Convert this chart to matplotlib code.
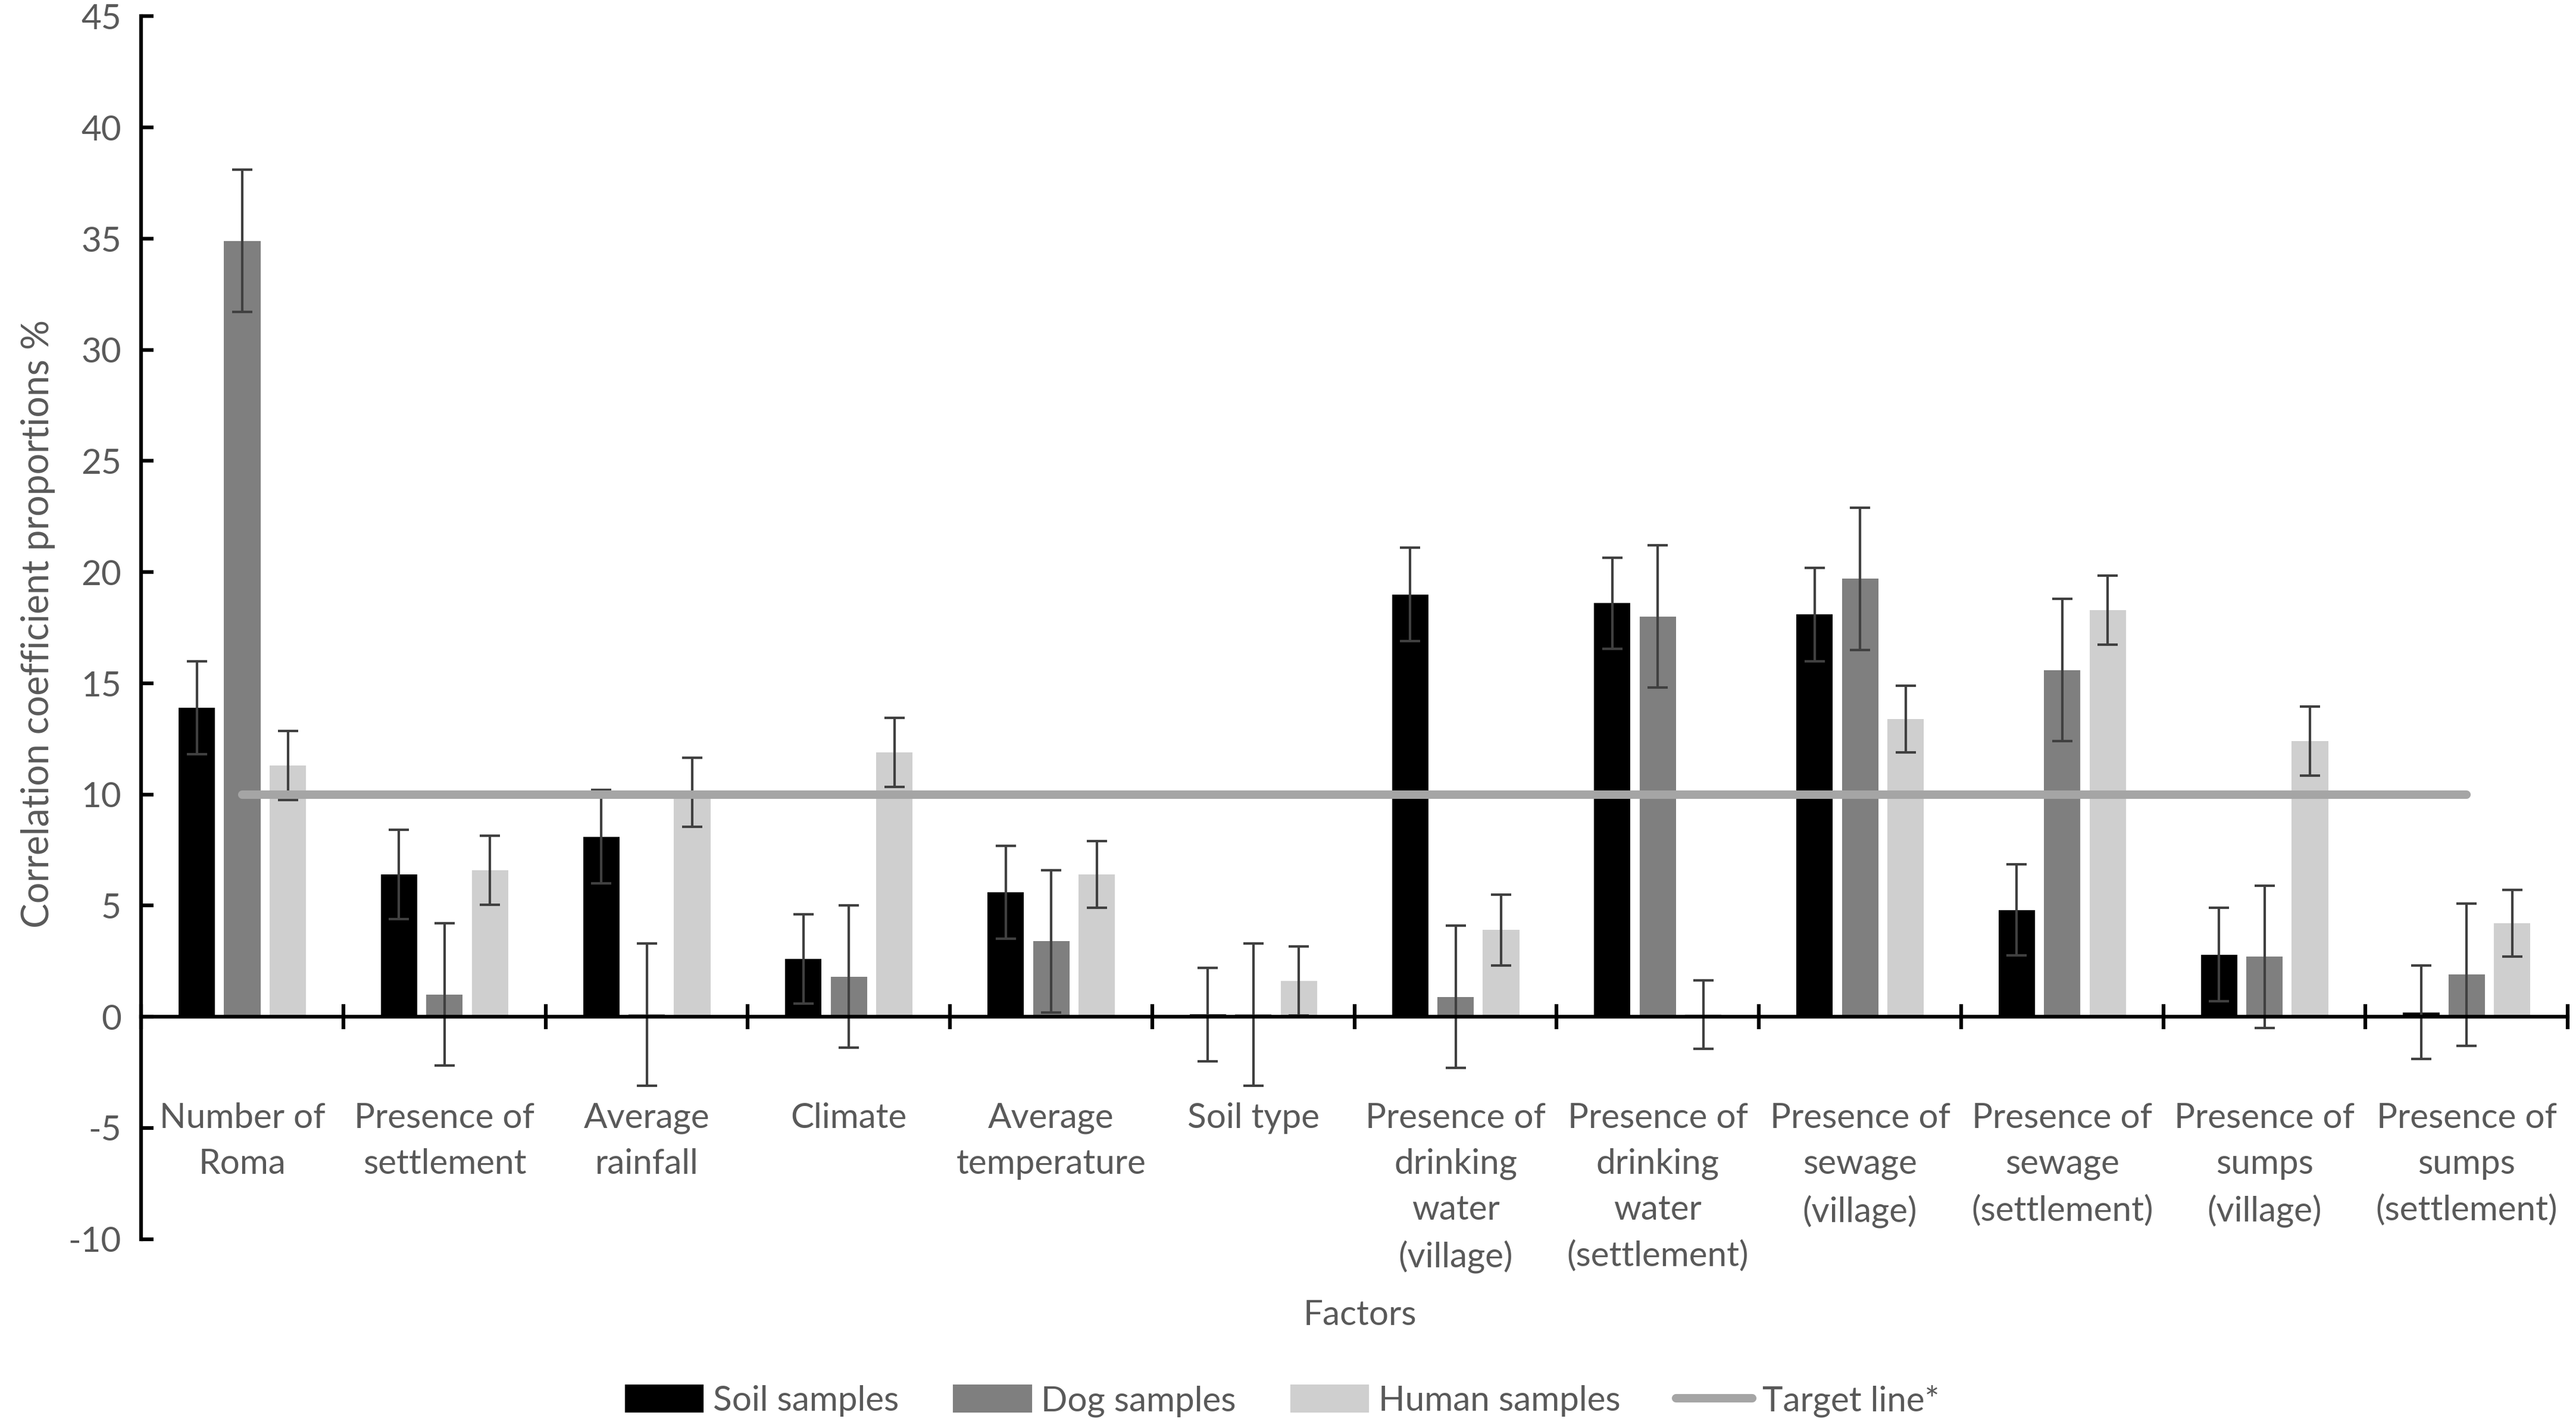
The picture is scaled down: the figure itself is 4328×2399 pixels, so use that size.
import matplotlib.pyplot as plt
import numpy as np
from matplotlib.lines import Line2D
from matplotlib.patches import Patch

factors = ["Number of\nRoma", "Presence of\nsettlement", "Average\nrainfall", "Climate",
           "Average\ntemperature", "Soil type", "Presence of\ndrinking\nwater\n(village)",
           "Presence of\ndrinking\nwater\n(settlement)", "Presence of\nsewage\n(village)",
           "Presence of\nsewage\n(settlement)", "Presence of\nsumps\n(village)",
           "Presence of\nsumps\n(settlement)"]

soil = [13.9, 6.4, 8.1, 2.6, 5.6, 0.1, 19.0, 18.6, 18.1, 4.8, 2.8, 0.2]
soil_err = [2.1, 2.0, 2.1, 2.0, 2.1, 2.1, 2.1, 2.05, 2.1, 2.05, 2.1, 2.1]
dog = [34.9, 1.0, 0.1, 1.8, 3.4, 0.1, 0.9, 18.0, 19.7, 15.6, 2.7, 1.9]
dog_err = [3.2, 3.2, 3.2, 3.2, 3.2, 3.2, 3.2, 3.2, 3.2, 3.2, 3.2, 3.2]
human = [11.3, 6.6, 10.1, 11.9, 6.4, 1.6, 3.9, 0.1, 13.4, 18.3, 12.4, 4.2]
human_err = [1.55, 1.55, 1.55, 1.55, 1.5, 1.55, 1.6, 1.55, 1.5, 1.55, 1.55, 1.5]
target = [10] * 12
yticks = list(range(-10, 46, 5))

plt.rcParams['font.family'] = ['Lato', 'DejaVu Sans']
txt = '#595959'

fig = plt.figure(figsize=(14.427, 7.997), dpi=300)
ax = fig.add_axes([0.0548, 0.1323, 0.942, 0.8562])

x = np.arange(1, 13)
w = 0.18
pitch = 0.225
ekw = dict(ecolor='#404040', elinewidth=1.0, capsize=4, capthick=1.0)
ax.bar(x - pitch, soil, w, color='#000000', yerr=soil_err, error_kw=ekw, zorder=2)
ax.bar(x, dog, w, color='#7f7f7f', yerr=dog_err, error_kw=ekw, zorder=2)
ax.bar(x + pitch, human, w, color='#cfcfcf', yerr=human_err, error_kw=ekw, zorder=2)
ax.plot(x, target, color='#a5a5a5', lw=3.4, solid_capstyle='round', zorder=3)

ax.set_xlim(0.5, 12.5)
ax.set_ylim(-10, 45)
ax.set_yticks(yticks)
ax.set_yticklabels([str(v) for v in yticks])
ax.tick_params(axis='y', direction='in', length=5, width=1.5, labelsize=14, colors='#000000',
               labelcolor=txt, pad=8)
ax.set_xticks(np.arange(0.5, 12.6, 1))
ax.set_xticklabels([])
ax.tick_params(axis='x', direction='inout', length=10, width=1.5)
ax.spines['bottom'].set_position(('data', 0))
ax.spines['bottom'].set_linewidth(1.5)
ax.spines['left'].set_linewidth(1.5)
ax.spines['top'].set_visible(False)
ax.spines['right'].set_visible(False)

for xi, lab in zip(x, factors):
    ax.text(xi, -3.85, lab, ha='center', va='top', fontsize=14, color=txt, linespacing=1.55)

fig.text(0.008, 0.563, 'Correlation coefficient proportions %', rotation=90, ha='left',
         va='center', fontsize=15, color=txt)
fig.text(0.528, 0.079, 'Factors', ha='center', va='center', fontsize=14, color=txt)

handles = [Patch(color='#000000'), Patch(color='#7f7f7f'), Patch(color='#cfcfcf'),
           Line2D([0], [0], color='#a5a5a5', lw=3.4, solid_capstyle='round')]
labels = ['Soil samples', 'Dog samples', 'Human samples', 'Target line*']
fig.legend(handles, labels, loc='center', bbox_to_anchor=(0.498, 0.019), ncol=4, frameon=False,
           fontsize=14, labelcolor=txt, handlelength=2.2, handleheight=0.75, handletextpad=0.3,
           columnspacing=1.6)

fig.savefig('out.png', dpi=300)
